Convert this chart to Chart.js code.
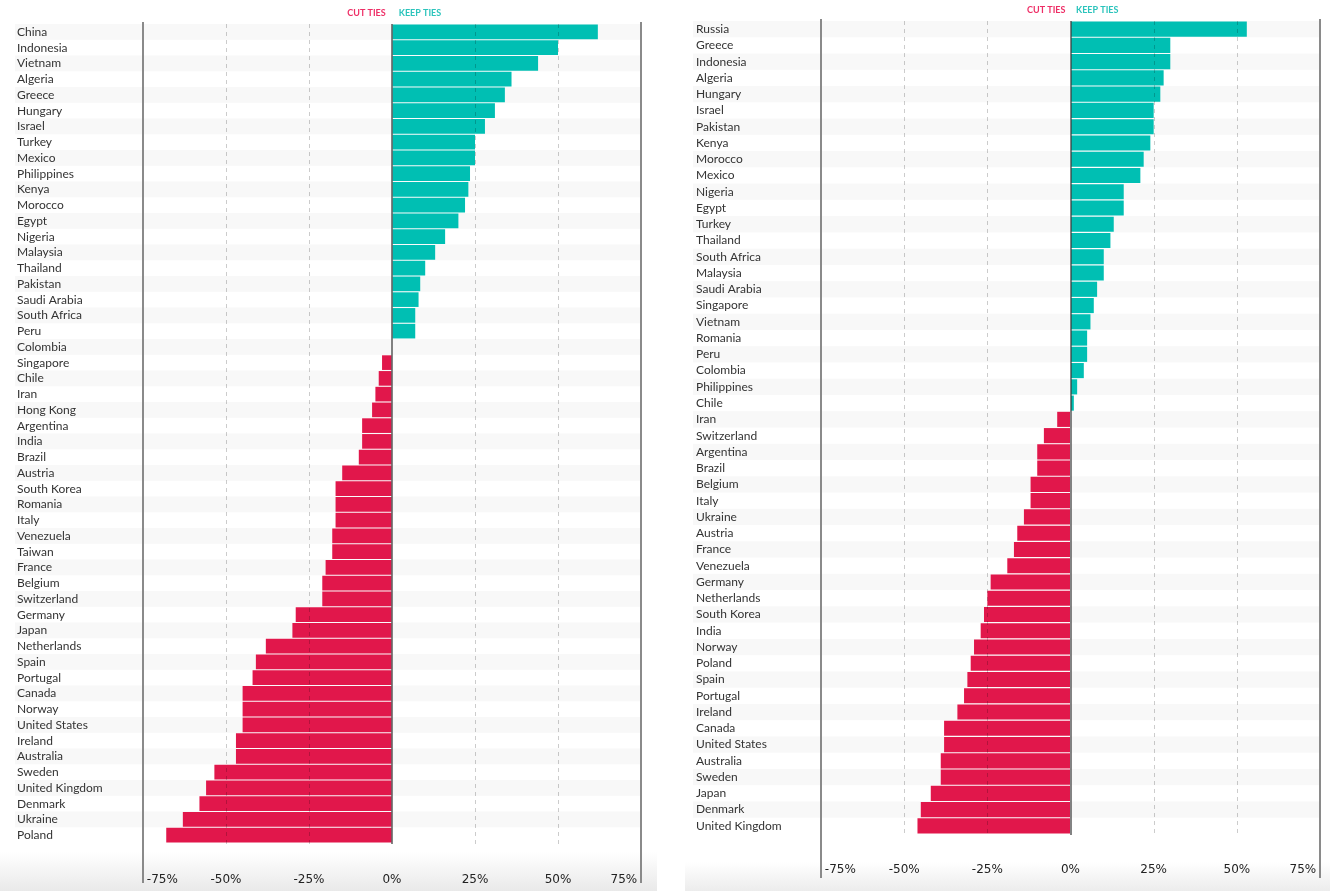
<!DOCTYPE html>
<html>
<head>
<meta charset="utf-8">
<script src="https://cdn.jsdelivr.net/npm/chart.js@4/dist/chart.umd.min.js"></script>
<style>
html,body{margin:0;padding:0;background:#fff;width:1330px;height:891px;overflow:hidden}
#p1{position:absolute;left:0;top:0;width:657px;height:891px;background:linear-gradient(to bottom,#fff 0,#fff 852px,#e9e9e9 891px)}
#p2{position:absolute;left:685px;top:0;width:645px;height:891px;background:linear-gradient(to bottom,#fff 0,#fff 862px,#ececec 891px)}
canvas{display:block}
</style>
</head>
<body>
<div id="p1"><canvas id="c1" width="657" height="891"></canvas></div>
<div id="p2"><canvas id="c2" width="645" height="891"></canvas></div>
<script>
// ---- data ----
const legendLabels = ['CUT TIES', 'KEEP TIES'];
const tickValues = [-75, -50, -25, 0, 25, 50, 75];

const leftCountries = ['China','Indonesia','Vietnam','Algeria','Greece','Hungary','Israel','Turkey','Mexico','Philippines','Kenya','Morocco','Egypt','Nigeria','Malaysia','Thailand','Pakistan','Saudi Arabia','South Africa','Peru','Colombia','Singapore','Chile','Iran','Hong Kong','Argentina','India','Brazil','Austria','South Korea','Romania','Italy','Venezuela','Taiwan','France','Belgium','Switzerland','Germany','Japan','Netherlands','Spain','Portugal','Canada','Norway','United States','Ireland','Australia','Sweden','United Kingdom','Denmark','Ukraine','Poland'];
const leftValues = [62,50,44,36,34,31,28,25,25,23.5,23,22,20,16,13,10,8.5,8,7,7,0,-3,-4,-5,-6,-9,-9,-10,-15,-17,-17,-17,-18,-18,-20,-21,-21,-29,-30,-38,-41,-42,-45,-45,-45,-47,-47,-53.5,-56,-58,-63,-68];

const rightCountries = ['Russia','Greece','Indonesia','Algeria','Hungary','Israel','Pakistan','Kenya','Morocco','Mexico','Nigeria','Egypt','Turkey','Thailand','South Africa','Malaysia','Saudi Arabia','Singapore','Vietnam','Romania','Peru','Colombia','Philippines','Chile','Iran','Switzerland','Argentina','Brazil','Belgium','Italy','Ukraine','Austria','France','Venezuela','Germany','Netherlands','South Korea','India','Norway','Poland','Spain','Portugal','Ireland','Canada','United States','Australia','Sweden','Japan','Denmark','United Kingdom'];
const rightValues = [53,30,30,28,27,25,25,24,22,21,16,16,13,12,10,10,8,7,6,5,5,4,2,1,-4,-8,-10,-10,-12,-12,-14,-16,-17,-19,-24,-25,-26,-27,-29,-30,-31,-32,-34,-38,-38,-39,-39,-42,-45,-46];

// ---- styles ----
const TEAL = '#00BFB3';
const RED = '#E1174B';
const LEGEND_COLORS = ['#EE2E66', '#2CC4BC'];

const stripePlugin = {
  id: 'stripes',
  beforeDraw(chart, args, opts) {
    const {ctx, chartArea, scales: {y}} = chart;
    const n = chart.data.labels.length;
    const pitch = (chartArea.bottom - chartArea.top) / n;
    ctx.save();
    ctx.fillStyle = '#f8f8f8';
    for (let i = 0; i < n; i += 2) {
      const c = y.getPixelForValue(i);
      ctx.fillRect(opts.left, c - pitch / 2, chartArea.right - opts.left, pitch);
    }
    ctx.restore();
  }
};

const gridPlugin = {
  id: 'topgrid',
  afterDatasetsDraw(chart, args, opts) {
    const {ctx, chartArea, scales: {x}} = chart;
    ctx.save();
    x.ticks.forEach(t => {
      const v = t.value;
      const px = Math.round(x.getPixelForValue(v));
      ctx.beginPath();
      if (Math.abs(v) === 75) {
        ctx.strokeStyle = '#8a8a8a'; ctx.lineWidth = 2; ctx.setLineDash([]);
        ctx.moveTo(px, chartArea.top - 2); ctx.lineTo(px, chartArea.bottom + opts.ext);
      } else if (v === 0) {
        ctx.strokeStyle = 'rgba(60,60,60,0.85)'; ctx.lineWidth = 1.5; ctx.setLineDash([]);
        ctx.moveTo(px, chartArea.top); ctx.lineTo(px, chartArea.bottom + 1);
      } else {
        ctx.strokeStyle = 'rgba(0,0,0,0.2)'; ctx.lineWidth = 1; ctx.setLineDash([4, 4]);
        ctx.moveTo(px + 0.5, chartArea.top); ctx.lineTo(px + 0.5, chartArea.bottom + 2);
      }
      ctx.stroke();
    });
    ctx.restore();
  }
};

function tickText(v) {
  if (v === -75) return ' ' + v + '%';
  if (v === 75) return v + '% ';
  return v + '%';
}

function makeChart(id, countries, values, g) {
  const keep = values.map(v => v > 0 ? v : null);
  const cut = values.map(v => v < 0 ? v : null);
  return new Chart(document.getElementById(id), {
    type: 'bar',
    data: {
      labels: countries,
      datasets: [
        {label: legendLabels[0], data: cut, backgroundColor: RED, borderWidth: 0},
        {label: legendLabels[1], data: keep, backgroundColor: TEAL, borderWidth: 0}
      ]
    },
    options: {
      indexAxis: 'y',
      responsive: false,
      animation: false,
      layout: {padding: {left: g.padLeft, right: g.padRight, top: 0, bottom: 0}},
      datasets: {bar: {grouped: false, barPercentage: 0.93, categoryPercentage: 1}},
      scales: {
        x: {
          type: 'linear', min: -75, max: 75,
          afterBuildTicks: s => { s.ticks = tickValues.map(v => ({value: v})); },
          afterFit: s => { s.height = g.xHeight; },
          grid: {display: true, drawOnChartArea: false, drawTicks: true, tickLength: g.tickLen, color: 'rgba(0,0,0,0)', tickColor: 'rgba(0,0,0,0)'},
          border: {display: false},
          ticks: {
            align: 'inner', padding: 0, maxRotation: 0, autoSkip: false,
            color: '#222', font: {family: 'DejaVu Sans', size: 12},
            callback: v => tickText(v)
          }
        },
        y: {
          afterFit: s => { s.width = g.yWidth; },
          grid: {display: false},
          border: {display: false},
          ticks: {
            autoSkip: false, crossAlign: 'far', padding: 0,
            color: '#333', font: {family: 'Lato', size: 12}
          }
        }
      },
      plugins: {
        tooltip: {enabled: false},
        legend: {
          position: 'top', fullSize: false, maxHeight: g.legendH,
          labels: {
            boxWidth: 0, boxHeight: 0, padding: g.legendPad,
            font: {family: 'Lato', size: 9, weight: 'bold'},
            generateLabels: chart => chart.data.datasets.map((d, i) => ({
              text: d.label, fontColor: LEGEND_COLORS[i], fillStyle: 'rgba(0,0,0,0)',
              strokeStyle: 'rgba(0,0,0,0)', lineWidth: 0, hidden: false, datasetIndex: i
            }))
          }
        },
        stripes: {left: g.stripeLeft},
        topgrid: {ext: g.lineExt}
      }
    },
    plugins: [stripePlugin, gridPlugin]
  });
}

makeChart('c1', leftCountries, leftValues, {
  padLeft: 17, padRight: 16, yWidth: 126, xHeight: 48, tickLen: 30,
  legendH: 24, legendPad: 8.5, stripeLeft: 15, lineExt: 40
});
makeChart('c2', rightCountries, rightValues, {
  padLeft: 11, padRight: 10, yWidth: 125, xHeight: 57, tickLen: 29,
  legendH: 21, legendPad: 6, stripeLeft: 8, lineExt: 44
});
</script>
</body>
</html>
